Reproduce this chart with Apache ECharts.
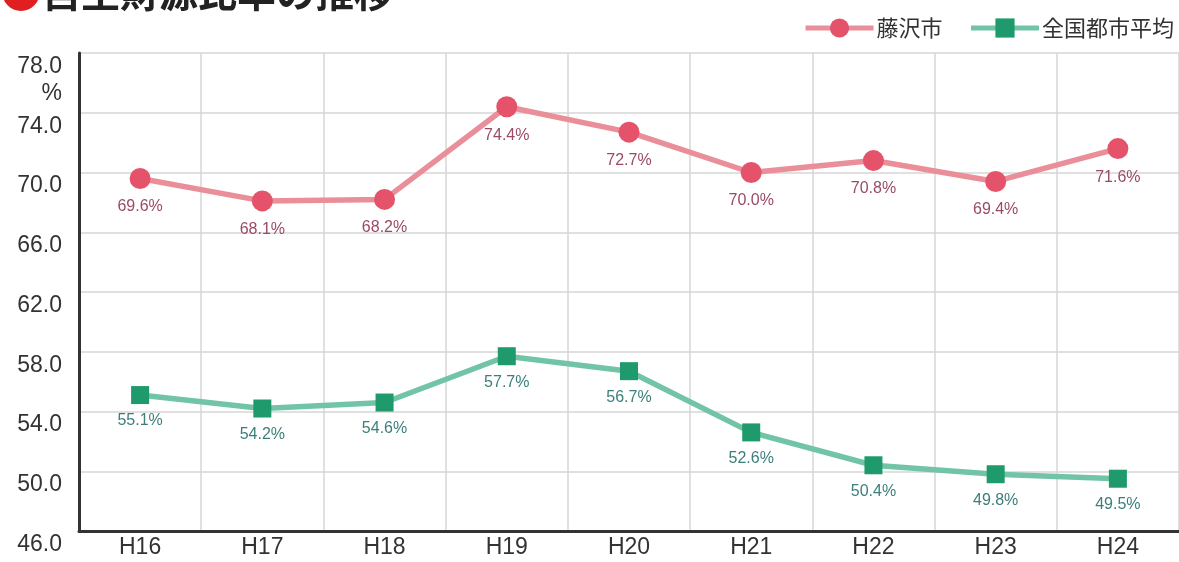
<!DOCTYPE html>
<html lang="ja">
<head>
    <meta charset="UTF-8">
    <title>自主財源比率の推移</title>
    <script src="https://cdn.jsdelivr.net/npm/echarts@6/dist/echarts.min.js"></script>
    <style>
        html, body { margin: 0; padding: 0; background: #fff; }
        #chart { width: 1179px; height: 562px; }
    </style>
</head>
<body>
<div id="chart"></div>
<script>
    // data
    const years = ['H16', 'H17', 'H18', 'H19', 'H20', 'H21', 'H22', 'H23', 'H24'];
    const fujisawa = [69.6, 68.1, 68.2, 74.4, 72.7, 70.0, 70.8, 69.4, 71.6];
    const nationalAvg = [55.1, 54.2, 54.6, 57.7, 56.7, 52.6, 50.4, 49.8, 49.5];
    const seriesNames = ['藤沢市', '全国都市平均'];

    const chart = echarts.init(document.getElementById('chart'));
    const font = '"Noto Sans CJK JP", "Noto Sans", sans-serif';
    const numFont = '"Liberation Sans", Arial, sans-serif';

    chart.setOption({
        animation: false,
        textStyle: { fontFamily: font },
        title: {
            text: '{dot|●}{t|自主財源比率の推移}',
            left: -5,
            top: -34,
            textStyle: {
                rich: {
                    dot: { color: '#e02020', fontSize: 42, fontFamily: font },
                    t: { color: '#222', fontSize: 39, fontWeight: 'bold', fontFamily: font }
                }
            }
        },
        legend: {
            right: 0,
            top: 12,
            itemWidth: 68,
            itemHeight: 24,
            itemGap: 26,
            lineStyle: { width: 5 },
            textStyle: { fontSize: 22, color: '#333', fontFamily: font, padding: [0, 0, 0, -2] },
            data: seriesNames
        },
        grid: { left: 79, right: -4, top: 53, bottom: 31, containLabel: false },
        xAxis: {
            type: 'category',
            data: years,
            boundaryGap: true,
            axisLine: { lineStyle: { color: '#333', width: 3 } },
            axisTick: { show: false },
            axisLabel: { fontSize: 23, color: '#333', margin: 5, fontFamily: numFont },
            splitLine: { show: true, lineStyle: { color: '#d6d6d6', width: 1.5 } }
        },
        yAxis: {
            type: 'value',
            min: 46,
            max: 78,
            interval: 4,
            axisLine: { show: true, lineStyle: { color: '#333', width: 3 } },
            axisTick: { show: false },
            axisLabel: {
                fontSize: 23,
                color: '#333',
                margin: 17,
                verticalAlign: 'top',
                lineHeight: 27,
                fontFamily: numFont,
                formatter: v => v === 78 ? '78.0\n%' : v.toFixed(1)
            },
            splitLine: { show: true, lineStyle: { color: '#d6d6d6', width: 1.5 } }
        },
        series: [
            {
                name: seriesNames[0],
                type: 'line',
                data: fujisawa,
                symbol: 'circle',
                symbolSize: 21,
                lineStyle: { color: '#ea8f99', width: 5.5 },
                itemStyle: { color: '#e5536a' },
                label: {
                    show: true,
                    position: 'bottom',
                    distance: 10,
                    fontSize: 16,
                    fontFamily: numFont,
                    color: '#9a4a66',
                    formatter: p => p.value.toFixed(1) + '%'
                }
            },
            {
                name: seriesNames[1],
                type: 'line',
                data: nationalAvg,
                symbol: 'rect',
                symbolSize: 18,
                lineStyle: { color: '#72c4a6', width: 5.5 },
                itemStyle: { color: '#1e9a6c' },
                label: {
                    show: true,
                    position: 'bottom',
                    distance: 9,
                    fontSize: 16,
                    fontFamily: numFont,
                    color: '#3a7f7a',
                    formatter: p => p.value.toFixed(1) + '%'
                }
            }
        ]
    });
</script>
</body>
</html>
